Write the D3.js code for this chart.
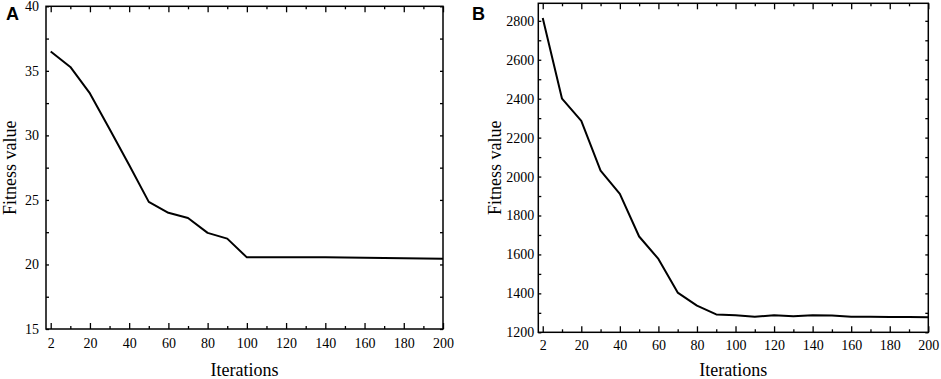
<!DOCTYPE html>
<html>
<head>
<meta charset="utf-8">
<script src="https://cdn.jsdelivr.net/npm/d3@7"></script>
<style>
  body { margin: 0; background: #fff; }
  svg { display: block; }
  .tick text { font-family: 'Liberation Serif', 'Times New Roman', serif; font-size: 14px; fill: #000; }
</style>
</head>
<body>
<div id="chart"></div>
<script>
// iterations where fitness was recorded
const iterations = [2, 10, 20, 30, 40, 50, 60, 70, 80, 90, 100, 110, 120, 130, 140, 150, 160, 170, 180, 190, 200];
const fitnessA = [36.5, 35.3, 33.25, 30.5, 27.7, 24.85, 24.0, 23.6, 22.45, 22.0, 20.55, 20.55, 20.55, 20.55, 20.55, 20.54, 20.52, 20.5, 20.49, 20.46, 20.44];
const fitnessB = [2814, 2400, 2286, 2031, 1911, 1692, 1577, 1404, 1337, 1292, 1288, 1280, 1287, 1282, 1288, 1286, 1280, 1280, 1279, 1278, 1277];
const xTicks = [2, 20, 40, 60, 80, 100, 120, 140, 160, 180, 200];
const xMinor = [10, 30, 50, 70, 90, 110, 130, 150, 170, 190];
const yTicksA = [15, 20, 25, 30, 35, 40];
const yMinorA = [17.5, 22.5, 27.5, 32.5, 37.5];
const yTicksB = [1200, 1400, 1600, 1800, 2000, 2200, 2400, 2600, 2800];
const yMinorB = [1300, 1500, 1700, 1900, 2100, 2300, 2500, 2700];

const params = {
	width: 941, height: 379,
	serif: "'Liberation Serif', 'Times New Roman', serif",
	panels: [
		{ letter: "A", values: fitnessA, left: 46, right: 443, top: 6.3, bottom: 329,
		  xStart: -2.4, yDomain: [15, 40], yTicks: yTicksA, yMinor: yMinorA,
		  ylabX: 16, letterX: 6, xPad: 9, yPad: 7 },
		{ letter: "B", values: fitnessB, left: 538.3, right: 928.3, top: 3.3, bottom: 332.3,
		  xStart: -2.3, yDomain: [1200, 2890], yTicks: yTicksB, yMinor: yMinorB,
		  ylabX: 501, letterX: 472, xPad: 8, yPad: 4 }
	]
}

const svg = d3.select("#chart").append("svg")
	.attr("width", params.width)
	.attr("height", params.height)

// one framed panel with inward ticks on all four sides
const drawPanel = (p) => {
	const g = svg.append("g")
	const pos = d3.scaleLinear().domain([p.xStart, 200]).range([p.left, p.right])
	// the first label "2" sits where 0 would be
	const xScale = d3.scaleLinear()
		.domain([2, 10, 200])
		.range([pos(0), pos(10), pos(200)])
	const yScale = d3.scaleLinear().domain(p.yDomain).range([p.bottom, p.top])
	const fmt = d3.format("d")

	const styleAxis = sel => {
		sel.attr("font-family", params.serif).attr("font-size", 14)
		sel.selectAll("path.domain").remove()
		sel.selectAll("line").attr("stroke", "#000").attr("stroke-width", 1.3)
	}

	// bottom
	g.append("g").attr("transform", `translate(0,${p.bottom})`)
		.call(d3.axisBottom(xScale).tickValues(xTicks).tickSize(-6).tickPadding(p.xPad).tickFormat(fmt))
		.call(styleAxis)
	g.append("g").attr("transform", `translate(0,${p.bottom})`)
		.call(d3.axisBottom(xScale).tickValues(xMinor).tickSize(-3).tickFormat(""))
		.call(styleAxis)
	// top
	g.append("g").attr("transform", `translate(0,${p.top})`)
		.call(d3.axisTop(xScale).tickValues(xTicks).tickSize(-6).tickFormat(""))
		.call(styleAxis)
	g.append("g").attr("transform", `translate(0,${p.top})`)
		.call(d3.axisTop(xScale).tickValues(xMinor).tickSize(-3).tickFormat(""))
		.call(styleAxis)
	// left
	g.append("g").attr("transform", `translate(${p.left},0)`)
		.call(d3.axisLeft(yScale).tickValues(p.yTicks).tickSize(-3).tickPadding(p.yPad).tickFormat(fmt))
		.call(styleAxis)
	g.append("g").attr("transform", `translate(${p.left},0)`)
		.call(d3.axisLeft(yScale).tickValues(p.yMinor).tickSize(-3).tickFormat(""))
		.call(styleAxis)
	// right
	g.append("g").attr("transform", `translate(${p.right},0)`)
		.call(d3.axisRight(yScale).tickValues(p.yTicks.concat(p.yMinor)).tickSize(-3).tickFormat(""))
		.call(styleAxis)

	// frame
	g.append("rect")
		.attr("x", p.left).attr("y", p.top)
		.attr("width", p.right - p.left).attr("height", p.bottom - p.top)
		.attr("fill", "none").attr("stroke", "#000").attr("stroke-width", 1.5)

	const line = d3.line()
		.x((d, i) => xScale(iterations[i]))
		.y(d => yScale(d))
	g.append("path")
		.attr("d", line(p.values))
		.attr("fill", "none")
		.attr("stroke", "#000")
		.attr("stroke-width", 2)
		.attr("stroke-linejoin", "round")

	g.append("text")
		.attr("x", (p.left + p.right) / 2).attr("y", 376)
		.attr("text-anchor", "middle")
		.attr("font-family", params.serif).attr("font-size", 18)
		.text("Iterations")

	g.append("text")
		.attr("transform", `translate(${p.ylabX},${(p.top + p.bottom) / 2}) rotate(-90)`)
		.attr("text-anchor", "middle")
		.attr("font-family", params.serif).attr("font-size", 18)
		.text("Fitness value")

	g.append("text")
		.attr("x", p.letterX).attr("y", 20)
		.attr("font-family", "'Liberation Sans', Arial, sans-serif")
		.attr("font-weight", "bold").attr("font-size", 18)
		.text(p.letter)
}

params.panels.forEach(drawPanel)
</script>
</body>
</html>
